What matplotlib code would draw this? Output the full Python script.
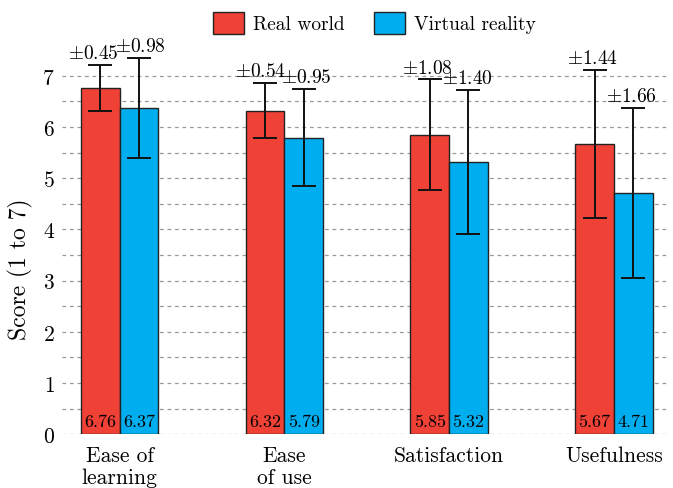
import numpy as np
import matplotlib
matplotlib.use('Agg')
import matplotlib.pyplot as plt
from matplotlib.ticker import MultipleLocator

plt.rcParams['font.family'] = ['cmr10', 'DejaVu Serif']
plt.rcParams['mathtext.fontset'] = 'cm'
plt.rcParams['axes.formatter.use_mathtext'] = True

categories = ['Ease of\nlearning', 'Ease\nof use', 'Satisfaction', 'Usefulness']
real_mean = [6.76, 6.32, 5.85, 5.67]
real_sd = [0.45, 0.54, 1.08, 1.44]
vr_mean = [6.37, 5.79, 5.32, 4.71]
vr_sd = [0.98, 0.95, 1.40, 1.66]
series_names = ['Real world', 'Virtual reality']

red = '#EF4136'
blue = '#00AEEF'

# horizontal nudges (points) for the +- labels so neighbours don't collide
real_nudge = [-5, -3.2, -1.4, -1.1]
vr_nudge = [1.1, 1.8, -0.7, -1.1]

fig = plt.figure(figsize=(6.73, 4.89), dpi=100)
ax = fig.add_axes([0.092, 0.110, 0.901, 0.780])

x = np.arange(len(categories))
w = 0.235

for off, means, sds, nudge, col, name in [(-w / 2, real_mean, real_sd, real_nudge, red, series_names[0]),
                                          (w / 2, vr_mean, vr_sd, vr_nudge, blue, series_names[1])]:
    ax.bar(x + off, means, w, color=col, edgecolor='#222222', linewidth=1.0,
           label=name, zorder=2)
    ax.errorbar(x + off, means, yerr=sds, fmt='none', ecolor='#111111',
                elinewidth=1.4, capsize=8.5, capthick=1.4, zorder=3)
    for xi, m, s, dx in zip(x + off, means, sds, nudge):
        ax.text(xi, 0.26, f'{m:.2f}', ha='center', va='center', fontsize=13, zorder=4)
        ax.annotate(r'$\pm$' + f'{s:.2f}', (xi, m + s), xytext=(dx, 2),
                    textcoords='offset points', ha='center', va='bottom',
                    fontsize=14, zorder=4)

ax.set_xlim(-0.35, 3.33)
ax.set_ylim(0, 7.45)
ax.set_xticks(x)
ax.set_xticklabels(categories, fontsize=15.5, linespacing=1.2)
ax.yaxis.set_major_locator(MultipleLocator(1))
ax.yaxis.set_minor_locator(MultipleLocator(0.5))
ax.tick_params(axis='y', labelsize=15.5, length=0, which='both', pad=5)
ax.tick_params(axis='x', length=0, pad=8)
ax.set_ylabel('Score (1 to 7)', fontsize=17)
ax.yaxis.set_label_coords(-0.047, 0.436)
ax.grid(axis='y', which='both', linestyle=(0, (3, 3)), color='#999999',
        linewidth=0.9, zorder=0)
ax.set_axisbelow(True)
for sp in ax.spines.values():
    sp.set_visible(False)

ax.legend(loc='lower center', bbox_to_anchor=(0.515, 1.03), ncol=2, frameon=False,
          fontsize=14, handlelength=1.6, handleheight=1.3, columnspacing=1.5,
          handletextpad=0.45, borderaxespad=0)

fig.savefig('out.png', dpi=100)
